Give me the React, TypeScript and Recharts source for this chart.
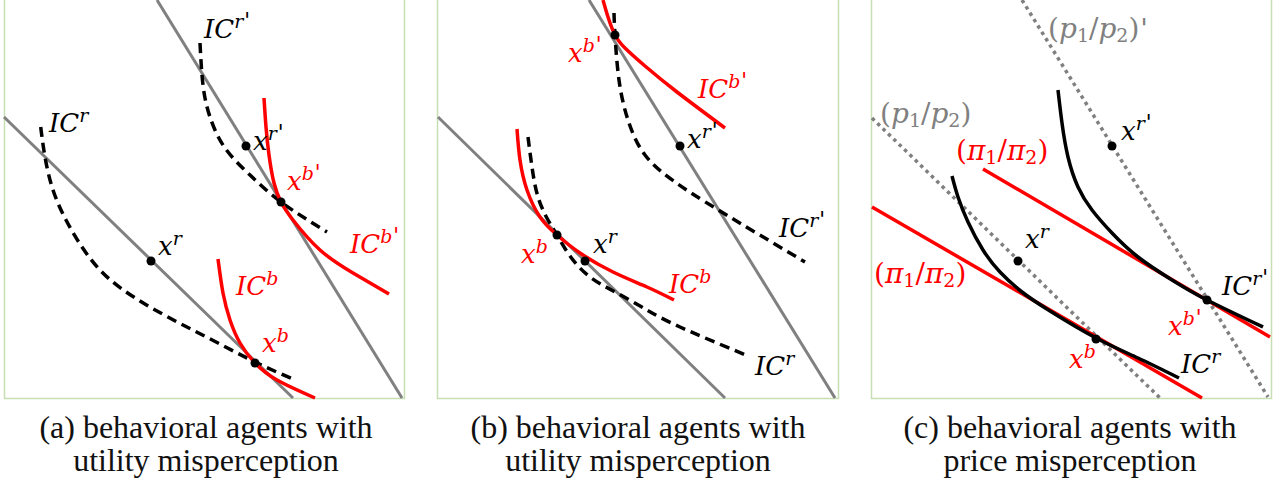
import React from "react";
import { ComposedChart, Line, Scatter, XAxis, YAxis } from "recharts";

type P = { x: number; y: number };
type L = { x: number; y: number; kind: string; sup?: string; letter?: string; prime?: boolean };

// ---------- Panel (a) ----------
const aBudgetSteep: P[] = [{ x: 157, y: 0 }, { x: 402, y: 398 }];
const aBudgetFlat: P[] = [{ x: 4, y: 117 }, { x: 293, y: 398 }];
const aICr: P[] = [
  { x: 40.7, y: 127 }, { x: 45, y: 157 }, { x: 53, y: 190 }, { x: 66, y: 220 }, { x: 82, y: 247 },
  { x: 100, y: 270 }, { x: 122, y: 289 }, { x: 150, y: 307 }, { x: 183, y: 325 }, { x: 218, y: 343 },
  { x: 255, y: 362 }, { x: 295, y: 380 },
];
const aICb: P[] = [
  { x: 218, y: 259 }, { x: 223, y: 293 }, { x: 230, y: 320 }, { x: 240, y: 343 }, { x: 255, y: 363 },
  { x: 277, y: 380 }, { x: 315, y: 398 },
];
const aICr2: P[] = [
  { x: 200, y: 43 }, { x: 203, y: 85 }, { x: 210, y: 117 }, { x: 225, y: 148 }, { x: 250, y: 175 },
  { x: 281, y: 202 }, { x: 327, y: 232 },
];
const aICb2: P[] = [
  { x: 264, y: 98 }, { x: 266, y: 127 }, { x: 269, y: 155 }, { x: 274, y: 183 }, { x: 281, y: 202 },
  { x: 293, y: 220 }, { x: 320, y: 250 }, { x: 353, y: 273 }, { x: 389, y: 294 },
];
const aPoints: P[] = [{ x: 151, y: 261 }, { x: 255, y: 363 }, { x: 246, y: 146 }, { x: 281, y: 202 }];
const aBlackLabels: L[] = [
  { x: 204, y: 38, kind: "IC", sup: "r", prime: true },
  { x: 49, y: 132, kind: "IC", sup: "r" },
  { x: 253, y: 150, kind: "x", sup: "r", prime: true },
  { x: 158, y: 255, kind: "x", sup: "r" },
];
const aRedLabels: L[] = [
  { x: 287, y: 190, kind: "x", sup: "b", prime: true },
  { x: 350, y: 253, kind: "IC", sup: "b", prime: true },
  { x: 236, y: 295, kind: "IC", sup: "b" },
  { x: 262, y: 352, kind: "x", sup: "b" },
];

// ---------- Panel (b) ----------
const bBudgetSteep: P[] = [{ x: 589, y: 0 }, { x: 835, y: 398 }];
const bBudgetFlat: P[] = [{ x: 438, y: 117 }, { x: 725, y: 398 }];
const bICb2: P[] = [
  { x: 603, y: 0 }, { x: 608, y: 17 }, { x: 615, y: 35 }, { x: 625, y: 48 }, { x: 645, y: 66 },
  { x: 677, y: 92 }, { x: 725, y: 128 },
];
const bICr2: P[] = [
  { x: 614, y: 13 }, { x: 615, y: 35 }, { x: 619, y: 80 }, { x: 628, y: 120 }, { x: 645, y: 155 },
  { x: 675, y: 182 }, { x: 720, y: 211 }, { x: 805, y: 262 },
];
const bICb: P[] = [
  { x: 517, y: 129 }, { x: 520, y: 160 }, { x: 527, y: 190 }, { x: 540, y: 217 }, { x: 557, y: 235 },
  { x: 580, y: 253 }, { x: 613, y: 272 }, { x: 647, y: 287 }, { x: 674, y: 300 },
];
const bICr: P[] = [
  { x: 528, y: 137 }, { x: 532, y: 167 }, { x: 538, y: 197 }, { x: 548, y: 220 }, { x: 557, y: 235 },
  { x: 570, y: 256 }, { x: 590, y: 277 }, { x: 617, y: 293 }, { x: 647, y: 310 }, { x: 680, y: 327 },
  { x: 748, y: 356 },
];
const bPoints: P[] = [{ x: 615, y: 35 }, { x: 680, y: 146 }, { x: 557, y: 235 }, { x: 585, y: 261 }];
const bBlackLabels: L[] = [
  { x: 687, y: 148, kind: "x", sup: "r", prime: true },
  { x: 779, y: 237, kind: "IC", sup: "r", prime: true },
  { x: 593, y: 253, kind: "x", sup: "r" },
  { x: 755, y: 375, kind: "IC", sup: "r" },
];
const bRedLabels: L[] = [
  { x: 568, y: 62, kind: "x", sup: "b", prime: true },
  { x: 698, y: 98, kind: "IC", sup: "b", prime: true },
  { x: 521, y: 263, kind: "x", sup: "b" },
  { x: 669, y: 293, kind: "IC", sup: "b" },
];

// ---------- Panel (c) ----------
const cPriceNew: P[] = [{ x: 1022, y: 0 }, { x: 1268, y: 397 }];
const cPriceOld: P[] = [{ x: 872, y: 118 }, { x: 1160, y: 398 }];
const cPercLow: P[] = [{ x: 872, y: 207 }, { x: 1202, y: 398 }];
const cPercHigh: P[] = [{ x: 983, y: 169 }, { x: 1270, y: 337 }];
const cICr: P[] = [
  { x: 952, y: 176 }, { x: 958, y: 197 }, { x: 968, y: 222 }, { x: 983, y: 250 }, { x: 1000, y: 272 },
  { x: 1022, y: 292 }, { x: 1050, y: 311 }, { x: 1096, y: 338 }, { x: 1138, y: 358 }, { x: 1179, y: 378 },
];
const cICr2: P[] = [
  { x: 1058, y: 90 }, { x: 1062, y: 123 }, { x: 1068, y: 157 }, { x: 1078, y: 187 }, { x: 1092, y: 210 },
  { x: 1112, y: 233 }, { x: 1138, y: 257 }, { x: 1172, y: 280 }, { x: 1207, y: 300 }, { x: 1263, y: 327 },
];
const cPoints: P[] = [{ x: 1018, y: 261 }, { x: 1112, y: 146 }, { x: 1096, y: 339 }, { x: 1207, y: 300 }];
const cBlackLabels: L[] = [
  { x: 1121, y: 140, kind: "x", sup: "r", prime: true },
  { x: 1025, y: 248, kind: "x", sup: "r" },
  { x: 1222, y: 295, kind: "IC", sup: "r", prime: true },
  { x: 1181, y: 373, kind: "IC", sup: "r" },
];
const cRedLabels: L[] = [
  { x: 956, y: 160, kind: "ratio", letter: "π" },
  { x: 874, y: 283, kind: "ratio", letter: "π" },
  { x: 1168, y: 335, kind: "x", sup: "b", prime: true },
  { x: 1069, y: 368, kind: "x", sup: "b" },
];
const cGrayLabels: L[] = [
  { x: 1048, y: 38, kind: "ratio", letter: "p", prime: true },
  { x: 880, y: 123, kind: "ratio", letter: "p" },
];

// ---------- Frames & captions ----------
const frames: P[][] = [
  [{ x: 4.5, y: 0 }, { x: 4.5, y: 398.5 }, { x: 404.5, y: 398.5 }, { x: 404.5, y: 0 }],
  [{ x: 437.5, y: 0 }, { x: 437.5, y: 398.5 }, { x: 838.5, y: 398.5 }, { x: 838.5, y: 0 }],
  [{ x: 871.5, y: 0 }, { x: 871.5, y: 398.5 }, { x: 1271.5, y: 398.5 }, { x: 1271.5, y: 0 }],
];
const captions = [
  { x: 206, y: 438, text: "(a) behavioral agents with" },
  { x: 206, y: 471, text: "utility misperception" },
  { x: 638, y: 438, text: "(b) behavioral agents with" },
  { x: 638, y: 471, text: "utility misperception" },
  { x: 1070, y: 438, text: "(c) behavioral agents with" },
  { x: 1070, y: 471, text: "price misperception" },
];

const GRAY = "#808080";
const RED = "#ff0000";
const MATH_FONT = "'DejaVu Serif', serif";

const Prime = ({ size, dy }: { size: number; dy?: number }) => (
  <tspan fontFamily="'DejaVu Sans', sans-serif" fontStyle="italic" fontSize={size} dx={1} dy={dy}>'</tspan>
);

const mathLabel = (color: string) => (props: any) => {
  const { cx, cy, payload } = props;
  if (cx == null || cy == null) return <g />;
  if (payload.kind === "ratio") {
    const fs = 28;
    const sub = 19;
    return (
      <text x={cx} y={cy} fill={color} fontFamily={MATH_FONT} fontSize={fs}>
        <tspan>(</tspan>
        <tspan fontStyle="italic">{payload.letter}</tspan>
        <tspan fontSize={sub} dy={4}>1</tspan>
        <tspan dy={-4}>/</tspan>
        <tspan fontStyle="italic">{payload.letter}</tspan>
        <tspan fontSize={sub} dy={4}>2</tspan>
        <tspan dy={-4}>)</tspan>
        {payload.prime ? <Prime size={26} /> : null}
      </text>
    );
  }
  const base = payload.kind === "IC" ? "IC" : "x";
  return (
    <text x={cx} y={cy} fill={color} fontFamily={MATH_FONT} fontSize={26} fontStyle="italic">
      <tspan>{base}</tspan>
      <tspan fontSize={19} dy={-10}>{payload.sup}</tspan>
      {payload.prime ? <Prime size={21} /> : null}
    </text>
  );
};

const dotShape = (props: any) => {
  const { cx, cy } = props;
  if (cx == null || cy == null) return <g />;
  return <circle cx={cx} cy={cy} r={4.5} fill="#000" />;
};

const captionShape = (props: any) => {
  const { cx, cy, payload } = props;
  if (cx == null || cy == null) return <g />;
  return (
    <text x={cx} y={cy} textAnchor="middle" fill="#111" fontFamily="'Liberation Serif', serif" fontSize={32}>
      {payload.text}
    </text>
  );
};

const straight = (data: P[], color: string, width: number, key: string, dash?: string) => (
  <Line
    key={key}
    data={data}
    dataKey="y"
    type="linear"
    stroke={color}
    strokeWidth={width}
    strokeDasharray={dash}
    dot={false}
    activeDot={false}
    isAnimationActive={false}
  />
);

const curve = (data: P[], color: string, width: number, key: string, dash?: string) => (
  <Line
    key={key}
    data={data}
    dataKey="y"
    type="natural"
    stroke={color}
    strokeWidth={width}
    strokeDasharray={dash}
    dot={false}
    activeDot={false}
    isAnimationActive={false}
  />
);

export default function App() {
  return (
    <div style={{ position: "absolute", left: 0, top: 0, width: 1288, height: 486, background: "#fff" }}>
      <ComposedChart width={1288} height={486} margin={{ top: 0, right: 0, bottom: 0, left: 0 }}>
        <XAxis type="number" dataKey="x" domain={[0, 1288]} hide allowDataOverflow />
        <YAxis type="number" dataKey="y" domain={[0, 486]} reversed hide allowDataOverflow />
        {frames.map((f, i) => straight(f, "#c6e0b4", 1.5, "frame" + i))}

        {straight(aBudgetSteep, GRAY, 3, "a1")}
        {straight(aBudgetFlat, GRAY, 3, "a2")}
        {curve(aICr, "#000", 3.5, "a3", "10 6")}
        {curve(aICr2, "#000", 3.5, "a4", "10 6")}
        {curve(aICb, RED, 3.5, "a5")}
        {curve(aICb2, RED, 3.5, "a6")}

        {straight(bBudgetSteep, GRAY, 3, "b1")}
        {straight(bBudgetFlat, GRAY, 3, "b2")}
        {curve(bICr, "#000", 3.5, "b3", "10 6")}
        {curve(bICr2, "#000", 3.5, "b4", "10 6")}
        {curve(bICb, RED, 3.5, "b5")}
        {curve(bICb2, RED, 3.5, "b6")}

        {straight(cPriceNew, GRAY, 3.5, "c1", "3.5 4")}
        {straight(cPriceOld, GRAY, 3.5, "c2", "3.5 4")}
        {straight(cPercLow, RED, 3.5, "c3")}
        {straight(cPercHigh, RED, 3.5, "c4")}
        {curve(cICr, "#000", 3.5, "c5")}
        {curve(cICr2, "#000", 3.5, "c6")}

        <Scatter data={[...aPoints, ...bPoints, ...cPoints]} dataKey="y" shape={dotShape} isAnimationActive={false} />
        <Scatter data={[...aBlackLabels, ...bBlackLabels, ...cBlackLabels]} dataKey="y" shape={mathLabel("#000")} isAnimationActive={false} />
        <Scatter data={[...aRedLabels, ...bRedLabels, ...cRedLabels]} dataKey="y" shape={mathLabel(RED)} isAnimationActive={false} />
        <Scatter data={cGrayLabels} dataKey="y" shape={mathLabel(GRAY)} isAnimationActive={false} />
        <Scatter data={captions} dataKey="y" shape={captionShape} isAnimationActive={false} />
      </ComposedChart>
    </div>
  );
}
